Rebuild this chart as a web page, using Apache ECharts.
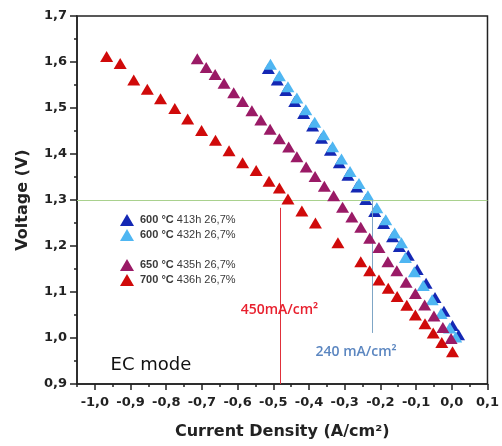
<!DOCTYPE html>
<html>
<head>
<meta charset="utf-8">
<script src="https://cdn.jsdelivr.net/npm/echarts@6/dist/echarts.min.js"></script>
<style>
  html, body { margin: 0; padding: 0; background: #fff; }
  #chart { width: 502px; height: 446px; }
</style>
</head>
<body>
<div id="chart"></div>
<script>
// current density (A/cm2) and cell voltage (V)
const blue413I = [-0.514, -0.489, -0.465, -0.440, -0.415, -0.390, -0.365, -0.340, -0.315, -0.291, -0.266, -0.241, -0.216, -0.191, -0.166, -0.147, -0.122, -0.097, -0.072, -0.047, -0.022, 0.002, 0.019]
const blue413V = [1.586, 1.561, 1.538, 1.514, 1.488, 1.461, 1.434, 1.408, 1.381, 1.354, 1.328, 1.301, 1.275, 1.249, 1.220, 1.199, 1.180, 1.149, 1.119, 1.088, 1.058, 1.027, 1.007]

const blue432I = [-0.508, -0.483, -0.459, -0.434, -0.409, -0.384, -0.359, -0.334, -0.309, -0.285, -0.260, -0.235, -0.210, -0.185, -0.160, -0.141, -0.130, -0.105, -0.080, -0.055, -0.030, -0.006, 0.011]
const blue432V = [1.595, 1.570, 1.546, 1.522, 1.496, 1.469, 1.442, 1.416, 1.389, 1.362, 1.336, 1.309, 1.283, 1.257, 1.228, 1.207, 1.175, 1.144, 1.114, 1.083, 1.053, 1.022, 1.002]

const purple435I = [-0.713, -0.688, -0.663, -0.638, -0.611, -0.586, -0.560, -0.535, -0.509, -0.483, -0.457, -0.434, -0.408, -0.383, -0.357, -0.331, -0.306, -0.280, -0.255, -0.230, -0.204, -0.179, -0.154, -0.128, -0.102, -0.076, -0.050, -0.025, -0.002]
const purple435V = [1.607, 1.588, 1.573, 1.554, 1.533, 1.514, 1.494, 1.474, 1.454, 1.433, 1.415, 1.394, 1.372, 1.351, 1.330, 1.309, 1.284, 1.263, 1.241, 1.217, 1.197, 1.166, 1.146, 1.121, 1.097, 1.072, 1.048, 1.023, 0.999]

const red436I = [-0.967, -0.929, -0.891, -0.853, -0.816, -0.776, -0.740, -0.701, -0.662, -0.624, -0.586, -0.548, -0.512, -0.483, -0.459, -0.420, -0.382, -0.319, -0.255, -0.230, -0.204, -0.178, -0.153, -0.126, -0.102, -0.075, -0.052, -0.028, 0.002]
const red436V = [1.612, 1.597, 1.561, 1.541, 1.520, 1.499, 1.476, 1.451, 1.430, 1.407, 1.381, 1.364, 1.341, 1.326, 1.302, 1.276, 1.250, 1.207, 1.166, 1.146, 1.126, 1.108, 1.090, 1.071, 1.050, 1.031, 1.011, 0.990, 0.970]

const seriesNames = ['600 °C 413h 26,7%', '600 °C 432h 26,7%', '650 °C 435h 26,7%', '700 °C 436h 26,7%']
const xTickValues = [-1.0, -0.9, -0.8, -0.7, -0.6, -0.5, -0.4, -0.3, -0.2, -0.1, 0.0, 0.1]
const xMinorTicks = [-1.05, -0.95, -0.85, -0.75, -0.65, -0.55, -0.45, -0.35, -0.25, -0.15, -0.05, 0.05]

// reference lines / labels
const targetVoltage = 1.3
const redMarkI = -0.48
const blueMarkI = -0.222

const zip = (a, b) => a.map((v, i) => [v, b[i]])
const comma = v => v.toFixed(1).replace('.', ',')

const chart = echarts.init(document.getElementById('chart'))

const colors = ['#1428b4', '#4fb6f2', '#9a1a66', '#d00a0a']
const pairs = [[blue413I, blue413V], [blue432I, blue432V], [purple435I, purple435V], [red436I, red436V]]

const series = pairs.map((p, i) => ({
  name: seriesNames[i], type: 'scatter', data: zip(p[0], p[1]),
  symbol: 'triangle', symbolSize: [13, 11],
  itemStyle: { color: colors[i], opacity: 1 },
  silent: true, z: 3 + i
}))

const guide = (color, data) => ({
  silent: true, symbol: 'none', label: { show: false }, animation: false,
  lineStyle: { color, width: 1, type: 'solid', opacity: 1 },
  emphasis: { disabled: true }, data
})
series[0].markLine = guide('#a9d18e', [{ yAxis: targetVoltage }])
series[3].markLine = guide('#e0303a', [[{ coord: [redMarkI, 1.283] }, { coord: [redMarkI, 0.9] }]])
series[1].markLine = guide('#7fa6c6', [[{ coord: [blueMarkI, targetVoltage] }, { coord: [blueMarkI, 1.011] }]])

series[0].markPoint = {
  silent: true, symbol: 'circle', symbolSize: 1, itemStyle: { color: 'transparent' }, animation: false,
  data: [
    { coord: [-0.483, 1.061], label: { show: true, position: 'inside', formatter: '450mA/cm²', color: '#e8202e', fontSize: 14, fontWeight: 600, fontFamily: 'Open Sans' } },
    { coord: [-0.268, 0.970], label: { show: true, position: 'inside', formatter: '240 mA/cm²', color: '#5b86c0', fontSize: 14, fontWeight: 600, fontFamily: 'Open Sans' } },
    { coord: [-0.843, 0.941], label: { show: true, position: 'inside', formatter: 'EC mode', color: '#111', fontSize: 18, fontFamily: 'DejaVu Sans' } }
  ]
}

const legendStyle = {
  left: 115, orient: 'vertical', itemWidth: 14, itemHeight: 12, itemGap: 3,
  icon: 'triangle', selectedMode: false,
  formatter: n => { const k = n.indexOf('C ') + 1; return '{b|' + n.slice(0, k) + '} ' + n.slice(k + 1) },
  textStyle: {
    fontFamily: 'Liberation Sans', fontSize: 11, color: '#3a3a3a', padding: [0, 0, 0, 1],
    rich: { b: { fontWeight: 'bold', fontSize: 11, color: '#3a3a3a', fontFamily: 'Liberation Sans' } }
  }
}

const tickFont = { fontFamily: 'DejaVu Sans', fontSize: 13, fontWeight: 'bold', color: '#222' }
const nameFont = { fontFamily: 'DejaVu Sans', fontSize: 16, fontWeight: 'bold', color: '#222' }

chart.setOption({
  animation: false,
  legend: [
    Object.assign({ top: 209, data: seriesNames.slice(0, 2) }, legendStyle),
    Object.assign({ top: 254, data: seriesNames.slice(2) }, legendStyle)
  ],
  grid: { left: 77, right: 9, top: 16, bottom: 62, show: true, borderColor: '#222', borderWidth: 1.5, backgroundColor: 'transparent' },
  xAxis: [
    {
      type: 'value', min: -1.05, max: 0.1, position: 'bottom',
      name: 'Current Density (A/cm²)', nameLocation: 'middle', nameGap: 40,
      nameTextStyle: nameFont,
      axisLine: { onZero: false, lineStyle: { color: '#222', width: 1.5 } },
      axisTick: { show: true, length: 6, customValues: xTickValues, lineStyle: { color: '#222', width: 1.5 } },
      axisLabel: Object.assign({ customValues: xTickValues, formatter: comma, margin: 12 }, tickFont),
      splitLine: { show: false }
    },
    {
      type: 'value', min: -1.05, max: 0.1, position: 'bottom', gridIndex: 0,
      axisLine: { show: false },
      axisTick: { show: true, length: 3, customValues: xMinorTicks, lineStyle: { color: '#222', width: 1.5 } },
      axisLabel: { show: false }, splitLine: { show: false }
    }
  ],
  yAxis: {
    type: 'value', min: 0.9, max: 1.7, interval: 0.1,
    name: 'Voltage (V)', nameLocation: 'middle', nameGap: 46,
    nameTextStyle: nameFont,
    axisLine: { show: true, onZero: false, lineStyle: { color: '#222', width: 1.5 } },
    axisTick: { show: true, length: 7, lineStyle: { color: '#222', width: 1.5 } },
    minorTick: { show: true, splitNumber: 2, length: 3, lineStyle: { color: '#222', width: 1.5 } },
    axisLabel: Object.assign({ formatter: comma, margin: 10 }, tickFont),
    splitLine: { show: false }
  },
  series
})
</script>
</body>
</html>
